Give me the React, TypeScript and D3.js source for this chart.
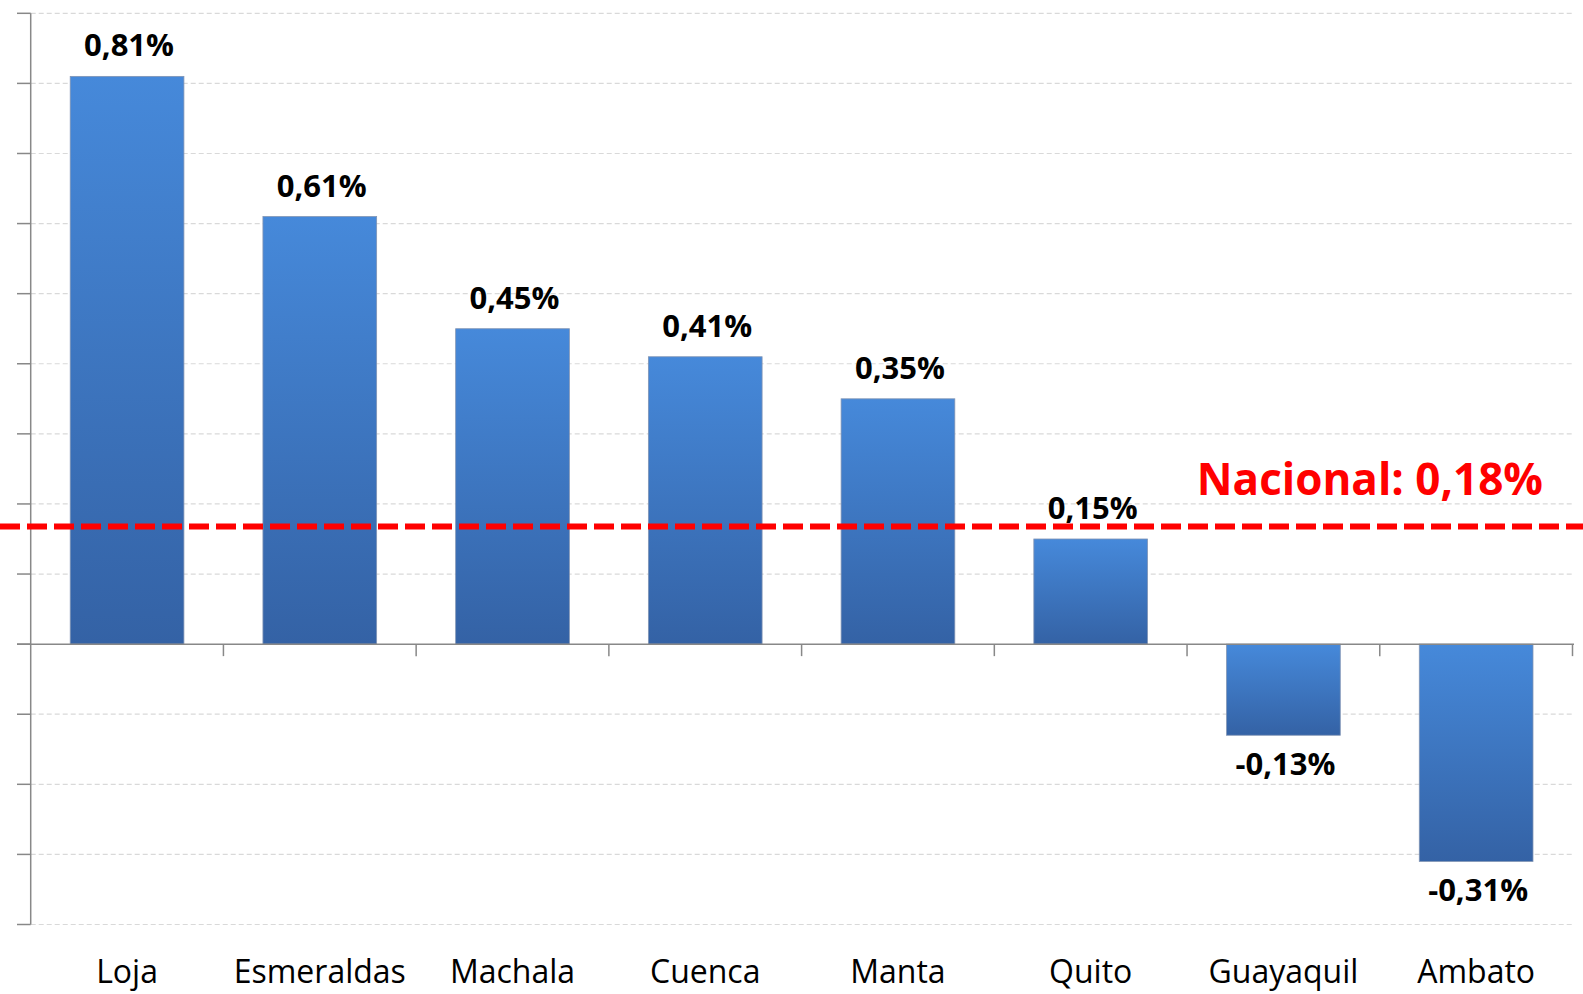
import React from 'react';
import * as d3 from 'd3';

const cities = ['Loja', 'Esmeraldas', 'Machala', 'Cuenca', 'Manta', 'Quito', 'Guayaquil', 'Ambato'];
const values = [0.81, 0.61, 0.45, 0.41, 0.35, 0.15, -0.13, -0.31];
const yTicks = [-0.4, -0.3, -0.2, -0.1, 0, 0.1, 0.2, 0.3, 0.4, 0.5, 0.6, 0.7, 0.8, 0.9];
const nacionalLabel = 'Nacional: 0,18%';
const nacionalLine = 0.168;

const width = 1583;
const height = 994;
const axisX = 30.7;
const plotRight = 1574;
const font = '"Open Sans", Lato, sans-serif';

// comma decimals, plain hyphen for negatives
const locale = d3.formatLocale({ decimal: ',', thousands: '.', grouping: [3], currency: ['', ''], minus: '-' });
const fmt = (v: number) => locale.format('.2f')(v) + '%';

export default function App() {
  const x = d3.scaleBand<string>()
    .domain(cities)
    .range([axisX, 1572.5])
    .paddingInner(0.41)
    .paddingOuter(0.205);
  const y = d3.scaleLinear([-0.4, 0.9], [924.5, 13.3]);
  const step = x.step();
  const y0 = y(0);

  return (
    <svg width={width} height={height} style={{ position: 'absolute', left: 0, top: 0, background: '#fff' }}>
      <defs>
        <linearGradient id="barGrad" x1="0" y1="0" x2="0" y2="1">
          <stop offset="0" stopColor="#4689da" />
          <stop offset="1" stopColor="#3462a5" />
        </linearGradient>
      </defs>

      {/* gridlines */}
      {yTicks.filter(t => t !== 0).map(t => (
        <line key={'g' + t} x1={axisX} x2={plotRight} y1={y(t)} y2={y(t)}
          stroke="#d9d9d9" strokeWidth={1.2} strokeDasharray="5,3" />
      ))}

      {/* y axis */}
      <line x1={axisX} x2={axisX} y1={y(0.9)} y2={y(-0.4)} stroke="#888" strokeWidth={1.5} />
      {yTicks.map(t => (
        <line key={'t' + t} x1={17} x2={axisX} y1={y(t)} y2={y(t)} stroke="#888" strokeWidth={1.5} />
      ))}

      {/* bars */}
      {cities.map((c, i) => {
        const v = values[i];
        return (
          <rect key={c} x={x(c)} width={x.bandwidth()}
            y={y(Math.max(0, v))} height={Math.abs(y(v) - y0)}
            fill="url(#barGrad)" stroke="#8094b4" strokeWidth={0.8} />
        );
      })}

      {/* zero axis */}
      <line x1={17} x2={plotRight} y1={y0} y2={y0} stroke="#888" strokeWidth={1.5} />
      {cities.map((c, i) => (
        <line key={'xt' + c} x1={axisX + (i + 1) * step} x2={axisX + (i + 1) * step}
          y1={y0} y2={y0 + 12} stroke="#888" strokeWidth={1.5} />
      ))}

      {/* value labels */}
      {cities.map((c, i) => {
        const v = values[i];
        return (
          <text key={'v' + c} x={(x(c) ?? 0) + x.bandwidth() / 2 + 2}
            y={v >= 0 ? y(v) - 20 : y(v) + 40}
            textAnchor="middle" fontFamily={font} fontWeight="bold" fontSize={31} fill="#000">
            {fmt(v)}
          </text>
        );
      })}

      {/* category labels */}
      {cities.map(c => (
        <text key={'c' + c} x={(x(c) ?? 0) + x.bandwidth() / 2} y={983}
          textAnchor="middle" fontFamily={font} fontSize={32} fill="#000">
          {c}
        </text>
      ))}

      {/* national average */}
      <line x1={0} x2={width} y1={y(nacionalLine)} y2={y(nacionalLine)}
        stroke="#ff0000" strokeWidth={6} strokeDasharray="20,7" />
      <text x={1543} y={495} textAnchor="end" fontFamily={font} fontWeight="bold" fontSize={44} fill="#ff0000">
        {nacionalLabel}
      </text>
    </svg>
  );
}
